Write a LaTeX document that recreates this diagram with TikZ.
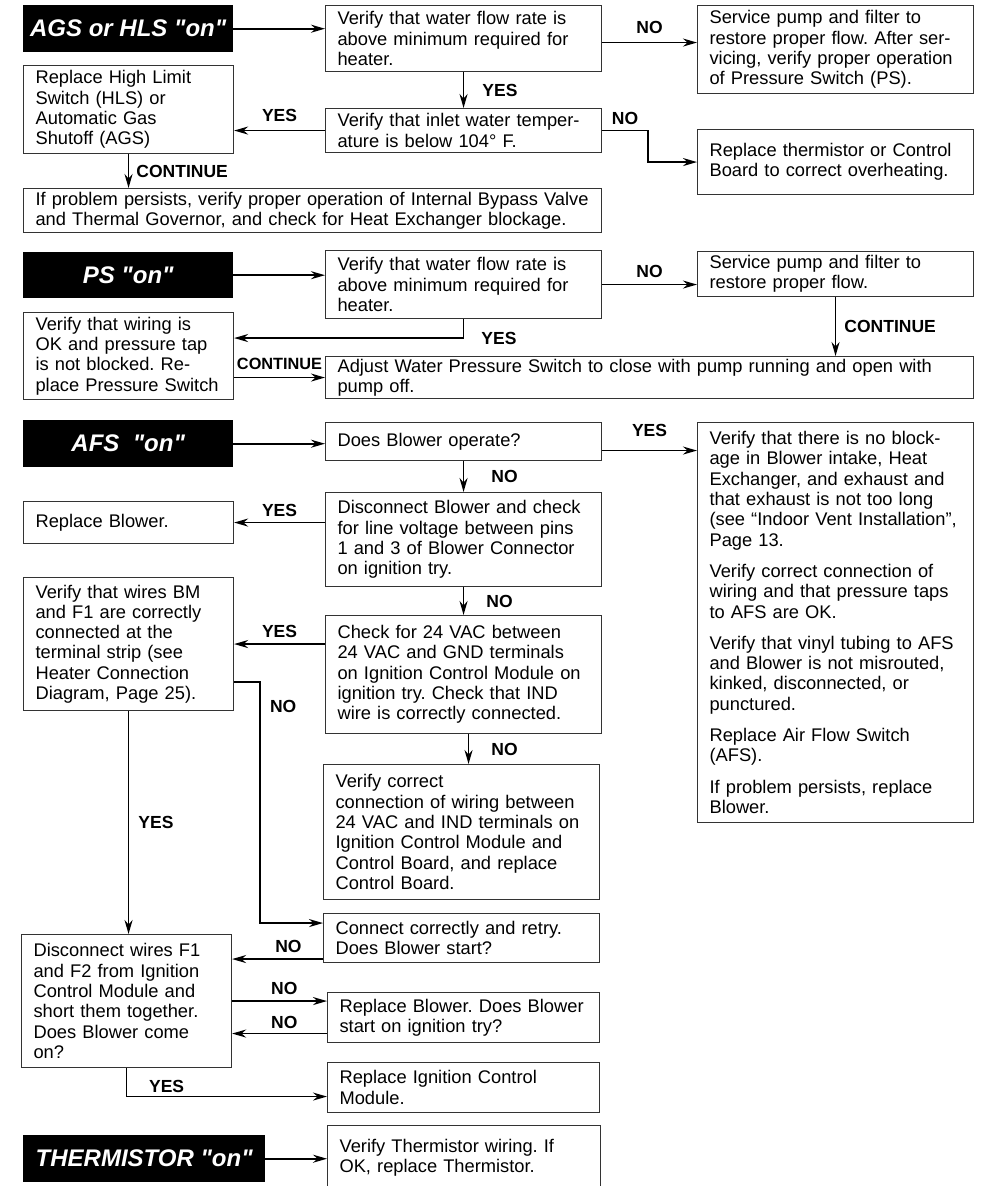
\documentclass[tikz,border=0pt]{standalone}
\usepackage{fontspec}
\setmainfont{Liberation Sans}[Ligatures=TeXOff]
\usepackage{tikz}
\usetikzlibrary{arrows.meta, positioning, calc}
\frenchspacing
\newcommand{\bodyfont}{\fontsize{18.3pt}{20.3pt}\selectfont}
\newcommand{\lblfont}{\fontsize{17.5pt}{20pt}\selectfont\bfseries}
\newcommand{\titlefont}{\fontsize{24pt}{28pt}\selectfont\bfseries\itshape}
\tikzset{
  box/.style={draw=black!80, line width=1.1pt, anchor=north west, align=left,
              inner xsep=12pt, inner ysep=2pt, font=\bodyfont},
  leftbox/.style={box, minimum width=210pt, text width=186pt},
  midbox/.style={box, minimum width=276pt, text width=252pt},
  rightbox/.style={midbox},
  title/.style={fill=black, text=white, font=\titlefont, anchor=north west,
                minimum width=210pt, minimum height=47pt, inner sep=0pt},
  arrow/.style={-{Stealth[length=14pt, width=8pt]}, line width=1.8pt},
  lbl/.style={font=\lblfont, inner sep=2pt}
}

\begin{document}
\begin{tikzpicture}[x=1pt, y=-1pt]
\fill[white] (0,0) rectangle (980,1186);
\useasboundingbox (0,0) rectangle (980,1186);
\clip (0,0) rectangle (980,1186);

% AGS or HLS "on"
\node[title] (agsT) at (23,5) {AGS or HLS "on"};
\node[midbox, minimum height=66pt] (agsFlow) at (325,5)
  {Verify that water flow rate is\\above minimum required for\\heater.};
\node[rightbox, minimum height=88pt] (agsPump) at (697,5)
  {Service pump and filter to\\restore proper flow. After ser-\\vicing, verify proper operation\\of Pressure Switch (PS).};
\node[leftbox, minimum height=88pt] (agsHLS) at (23,65)
  {Replace High Limit\\Switch (HLS) or\\Automatic Gas\\Shutoff (AGS)};
\node[midbox, minimum height=44pt] (agsTemp) at (325,108)
  {Verify that inlet water temper-\\ature is below 104° F.};
\node[rightbox, minimum height=65pt] (agsTherm) at (697,129)
  {Replace thermistor or Control\\Board to correct overheating.};
\node[box, minimum width=578pt, text width=554pt, minimum height=44pt] (agsBypass) at (23,188)
  {If problem persists, verify proper operation of Internal Bypass Valve\\and Thermal Governor, and check for Heat Exchanger blockage.};

\draw[arrow] (agsT.east) -- (agsT.east -| agsFlow.west);
\draw[arrow] ([yshift=-4pt]agsFlow.east) -- node[lbl, above=6pt] {NO} ([yshift=-4pt]agsFlow.east -| agsPump.west);
\draw[arrow] (agsFlow.south) -- node[lbl, right=16pt] {YES} (agsTemp.north);
\draw[arrow] (agsTemp.west) -- node[lbl, above=6pt] {YES} (agsTemp.west -| agsHLS.east);
\draw[arrow] (agsTemp.east) -- node[lbl, above=3pt] {NO} ++(46,0) |- (agsTherm.west);
\draw[arrow] (agsHLS.south) -- node[lbl, right=5pt] {CONTINUE} (agsHLS.south |- agsBypass.north);

% PS "on"
\node[title, minimum height=46pt] (psT) at (23,252) {PS "on"};
\node[midbox, minimum height=68pt] (psFlow) at (325,250)
  {Verify that water flow rate is\\above minimum required for\\heater.};
\node[rightbox, minimum height=45pt] (psPump) at (697,251)
  {Service pump and filter to\\restore proper flow.};
\node[leftbox, minimum height=87pt] (psWiring) at (23,312)
  {Verify that wiring is\\OK and pressure tap\\is not blocked. Re-\\place Pressure Switch};
\node[box, minimum width=648pt, text width=624pt, minimum height=42pt] (psAdjust) at (325,356)
  {Adjust Water Pressure Switch to close with pump running and open with\\pump off.};

\draw[arrow] (psT.east) -- (psT.east -| psFlow.west);
\draw[arrow] (psFlow.east) -- node[lbl, above=4pt] {NO} (psFlow.east -| psPump.west);
\draw[arrow] (psFlow.south) |- node[lbl, pos=0.5, right=15pt] {YES} ([yshift=18pt]psWiring.east);
\draw[arrow] (psAdjust.west -| psWiring.east) -- node[lbl, above=5pt, font=\fontsize{16.3pt}{20pt}\selectfont\bfseries] {CONTINUE} (psAdjust.west);
\draw[arrow] (psPump.south) -- node[lbl, right=6pt] {CONTINUE} (psPump.south |- psAdjust.north);

% AFS "on"
\node[title] (afsT) at (23,420) {AFS\ \ "on"};
\node[midbox, minimum height=38pt] (afsRun) at (325,422) {Does Blower operate?};
\node[rightbox, minimum height=400pt] (afsBlock) at (697,422)
  {Verify that there is no block-\\age in Blower intake, Heat\\Exchanger, and exhaust and\\that exhaust is not too long\\(see “Indoor Vent Installation”,\\Page 13.\\[11pt]
   Verify correct connection of\\wiring and that pressure taps\\to AFS are OK.\\[11pt]
   Verify that vinyl tubing to AFS\\and Blower is not misrouted,\\kinked, disconnected, or\\punctured.\\[11pt]
   Replace Air Flow Switch\\(AFS).\\[11pt]
   If problem persists, replace\\Blower.};
\node[leftbox, minimum height=42pt] (afsRepl) at (23,501) {Replace Blower.};
\node[midbox, minimum height=94pt] (afsDisc) at (325,492)
  {Disconnect Blower and check\\for line voltage between pins\\1 and 3 of Blower Connector\\on ignition try.};
\node[leftbox, minimum height=133pt] (afsWires) at (23,577)
  {Verify that wires BM\\and F1 are correctly\\connected at the\\terminal strip (see\\Heater Connection\\Diagram, Page 25).};
\node[midbox, minimum height=118pt] (afs24) at (325,615)
  {Check for 24 VAC between\\24 VAC and GND terminals\\on Ignition Control Module on\\ignition try. Check that IND\\wire is correctly connected.};
\node[midbox, minimum height=135pt] (afsInd) at (323,764)
  {Verify correct\\connection of wiring between\\24 VAC and IND terminals on\\Ignition Control Module and\\Control Board, and replace\\Control Board.};
\node[midbox, minimum height=49pt] (afsRetry) at (323,913)
  {Connect correctly and retry.\\Does Blower start?};
\node[leftbox, minimum height=133pt] (afsShort) at (21,934)
  {Disconnect wires F1\\and F2 from Ignition\\Control Module and\\short them together.\\Does Blower come\\on?};
\node[box, minimum width=272pt, text width=248pt, minimum height=50pt] (afsNew) at (327,992)
  {Replace Blower. Does Blower\\start on ignition try?};
\node[box, minimum width=272pt, text width=248pt, minimum height=50pt] (afsICM) at (327,1062)
  {Replace Ignition Control\\Module.};

\draw[arrow] (afsT.east) -- (afsT.east -| afsRun.west);
\draw[arrow] ([yshift=-9pt]afsRun.east) -- node[lbl, above=11pt] {YES} ([yshift=-9pt]afsRun.east -| afsBlock.west);
\draw[arrow] (afsRun.south) -- node[lbl, right=25pt] {NO} (afsDisc.north);
\draw[arrow] (afsRepl.east -| afsDisc.west) -- node[lbl, above=3pt] {YES} (afsRepl.east);
\draw[arrow] (afsDisc.south) -- node[lbl, right=20pt] {NO} (afs24.north);
\draw[arrow] (afsWires.east -| afs24.west) -- node[lbl, above=3pt] {YES} (afsWires.east);
\draw[arrow] ([xshift=5pt]afs24.south) -- node[lbl, right=20pt] {NO} ([xshift=5pt]afs24.south |- afsInd.north);
\draw[arrow] ([yshift=-38pt]afsWires.east) -- ++(26,0) -- node[lbl, pos=0.1, right=7pt] {NO} ++(0,241) -- ([yshift=15pt]afsRetry.west);
\draw[arrow] (afsWires.south) -- node[lbl, right=7pt] {YES} (afsWires.south |- afsShort.north);
\draw[arrow] ([yshift=-21pt]afsRetry.west) -- node[lbl, pos=0.38, above=3pt] {NO} ([yshift=-21pt]afsRetry.west -| afsShort.east);
\draw[arrow] (afsShort.east) -- node[lbl, pos=0.55, above=3pt] {NO} (afsShort.east -| afsNew.west);
\draw[arrow] ([yshift=-16pt]afsNew.west) -- node[lbl, pos=0.45, above=2pt] {NO} ([yshift=-16pt]afsNew.west -| afsShort.east);
\draw[arrow] (afsShort.south) |- node[lbl, pos=0.6, above=1pt] {YES} ([yshift=-9pt]afsICM.west);

% THERMISTOR "on"
\node[title, minimum width=242pt] (thT) at (23,1135) {THERMISTOR "on"};
\node[box, minimum width=273pt, text width=249pt, minimum height=64pt] (thBox) at (327,1125)
  {Verify Thermistor wiring. If\\OK, replace Thermistor.};

\draw[arrow] (thT.east) -- (thT.east -| thBox.west);

\end{tikzpicture}
\end{document}
